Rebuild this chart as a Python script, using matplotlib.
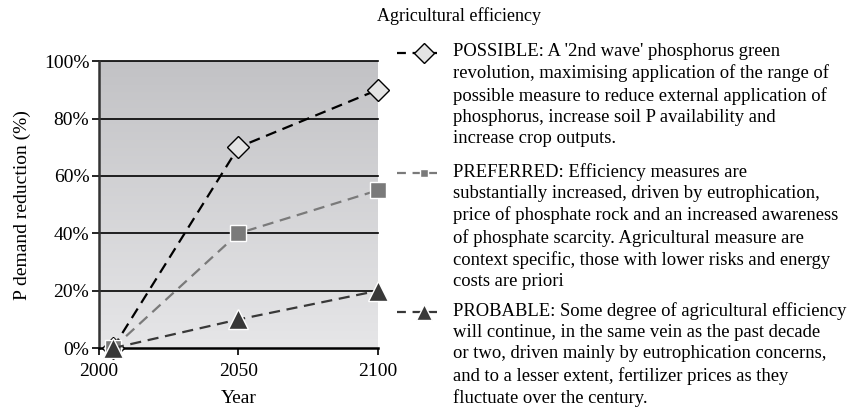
import numpy as np
import matplotlib.pyplot as plt
from matplotlib.lines import Line2D
from matplotlib.colors import LinearSegmentedColormap

plt.rcParams['font.family'] = ['Liberation Serif', 'DejaVu Serif']

years = [2005, 2050, 2100]
possible = [0, 70, 90]
preferred = [0, 40, 55]
probable = [0, 10, 20]

labels = [
    "POSSIBLE: A '2nd wave' phosphorus green\n"
    "revolution, maximising application of the range of\n"
    "possible measure to reduce external application of\n"
    "phosphorus, increase soil P availability and\n"
    "increase crop outputs.",
    "PREFERRED: Efficiency measures are\n"
    "substantially increased, driven by eutrophication,\n"
    "price of phosphate rock and an increased awareness\n"
    "of phosphate scarcity. Agricultural measure are\n"
    "context specific, those with lower risks and energy\n"
    "costs are priori",
    "PROBABLE: Some degree of agricultural efficiency\n"
    "will continue, in the same vein as the past decade\n"
    "or two, driven mainly by eutrophication concerns,\n"
    "and to a lesser extent, fertilizer prices as they\n"
    "fluctuate over the century.",
]

fig = plt.figure(figsize=(8.5, 4.13), dpi=100)
ax = fig.add_axes([0.1165, 0.157, 0.328, 0.695])

# gray gradient background, darker at the top
grad = np.linspace(0, 1, 256).reshape(-1, 1)
cmap = LinearSegmentedColormap.from_list('g', ['#c2c2c5', '#e6e6e8'])
ax.imshow(grad, cmap=cmap, extent=[2000, 2100, 0, 100], origin='upper',
          aspect='auto', zorder=0)

for v in [20, 40, 60, 80, 100]:
    ax.axhline(v, color='black', lw=1.2, zorder=1, clip_on=False)

styles = [
    dict(color='black', marker='D', mfc='#e4e4e4', mec='black', ms=11, mew=1.0),
    dict(color='#7a7a7a', marker='s', mfc='#7a7a7a', mec='white', ms=11, mew=1.0),
    dict(color='#383838', marker='^', mfc='#383838', mec='white', ms=15, mew=1.0),
]
leg_ms = [10, 6, 11]
series = [possible, preferred, probable]
for vals, st in zip(series, styles):
    ax.plot(years, vals, ls=(0, (5, 3)), lw=1.6, zorder=3, clip_on=False, **st)

ax.set_xlim(2000, 2100)
ax.set_ylim(0, 100)
ax.set_xticks([2000, 2050, 2100])
ax.set_yticks([0, 20, 40, 60, 80, 100])
ax.set_yticklabels([f'{v}%' for v in [0, 20, 40, 60, 80, 100]])
ax.tick_params(labelsize=14, direction='out', length=5, width=1.2, colors='black')
ax.tick_params(axis='y', pad=2)
ax.tick_params(axis='x', pad=6)
for s in ['top', 'right']:
    ax.spines[s].set_visible(False)
for s in ['left', 'bottom']:
    ax.spines[s].set_linewidth(1.8)
ax.spines['left'].set_color('#333333')
ax.set_xlabel('Year', fontsize=14, labelpad=7)
ax.set_ylabel('P demand reduction (%)', fontsize=14, labelpad=9)

fig.text(0.54, 0.962, 'Agricultural efficiency', ha='center', va='center', fontsize=13)

# legend drawn by hand so markers line up with the first text line
y_first = [53, 173, 312]
for lab, st, ms, yc in zip(labels, styles, leg_ms, y_first):
    yf = 1 - yc / 413
    fig.add_artist(Line2D([397 / 850, 424 / 850, 441 / 850], [yf, yf, yf],
                          transform=fig.transFigure, ls=(0, (4, 3)), lw=1.6,
                          markevery=[1], **{**st, 'ms': ms}))
    fig.text(453 / 850, 1 - (yc - 10) / 413, lab, ha='left', va='top', fontsize=13.4,
             linespacing=1.32, transform=fig.transFigure)

fig.savefig('out.png', dpi=100)
